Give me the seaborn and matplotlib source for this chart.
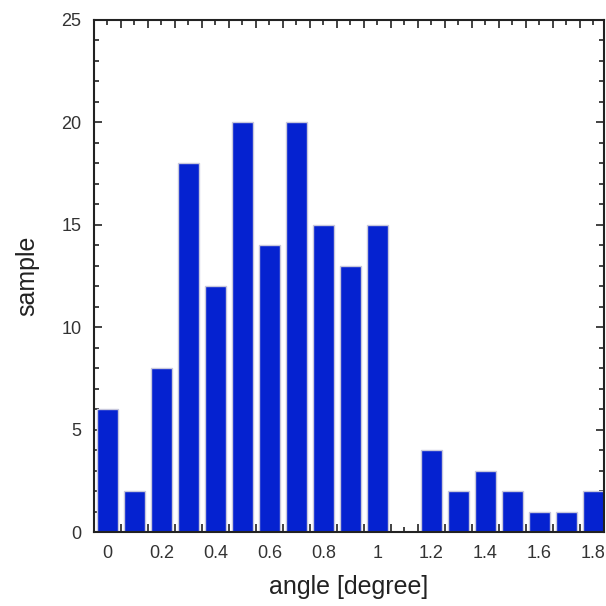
import numpy as np
import pandas as pd
import matplotlib
matplotlib.use("Agg")
import matplotlib.pyplot as plt
import seaborn as sns
from matplotlib.ticker import FixedLocator, MultipleLocator

# histogram of angles, bins every 0.1 degree
angles = [0.0, 0.1, 0.2, 0.3, 0.4, 0.5, 0.6, 0.7, 0.8, 0.9,
          1.0, 1.1, 1.2, 1.3, 1.4, 1.5, 1.6, 1.7, 1.8]
samples = [6, 2, 8, 18, 12, 20, 14, 20, 15, 13,
           15, 0, 4, 2, 3, 2, 1, 1, 2]
xtick_labels = ["0", "0.2", "0.4", "0.6", "0.8", "1", "1.2", "1.4", "1.6", "1.8"]

sns.set_style("ticks")
plt.rcParams['font.family'] = ['Liberation Sans', 'DejaVu Sans']

df = pd.DataFrame({'angle': angles, 'sample': samples})

fig = plt.figure(figsize=(6.06, 6.06), dpi=100)
ax = fig.add_axes([0.155, 0.122, 0.842, 0.845])

sns.barplot(data=df, x='angle', y='sample', native_scale=True, width=0.8,
            color='#0522d0', saturation=1, edgecolor='#c8c8dc', linewidth=1.0,
            ax=ax)

ax.set_xlim(-0.05, 1.84)
ax.set_ylim(0, 25)

# x: short ticks at bin centres (labels every 0.2), long ticks at bin edges
centres = np.round(np.arange(0, 1.85, 0.1), 2)
ax.xaxis.set_major_locator(FixedLocator(centres))
ax.set_xticklabels([xtick_labels[i // 2] if i % 2 == 0 else "" for i in range(len(centres))])
ax.xaxis.set_minor_locator(FixedLocator(np.round(np.arange(0.05, 1.84, 0.1), 2)))
ax.yaxis.set_major_locator(MultipleLocator(5))
ax.yaxis.set_minor_locator(MultipleLocator(1))

ax.tick_params(axis='both', which='both', direction='in', top=True, right=True,
               width=1.2, colors='#222222', labelcolor='#333333', labelsize=13)
ax.tick_params(axis='x', which='major', length=3.5, pad=9)
ax.tick_params(axis='x', which='minor', length=6)
ax.tick_params(axis='y', which='major', length=6, pad=9)
ax.tick_params(axis='y', which='minor', length=3.5)

for s in ax.spines.values():
    s.set_linewidth(1.5)
    s.set_color('#222222')

ax.set_xlabel('angle [degree]', fontsize=18, color='#222222', labelpad=10)
ax.set_ylabel('sample', fontsize=18, color='#222222', labelpad=16)

fig.savefig('out.png', dpi=100)
